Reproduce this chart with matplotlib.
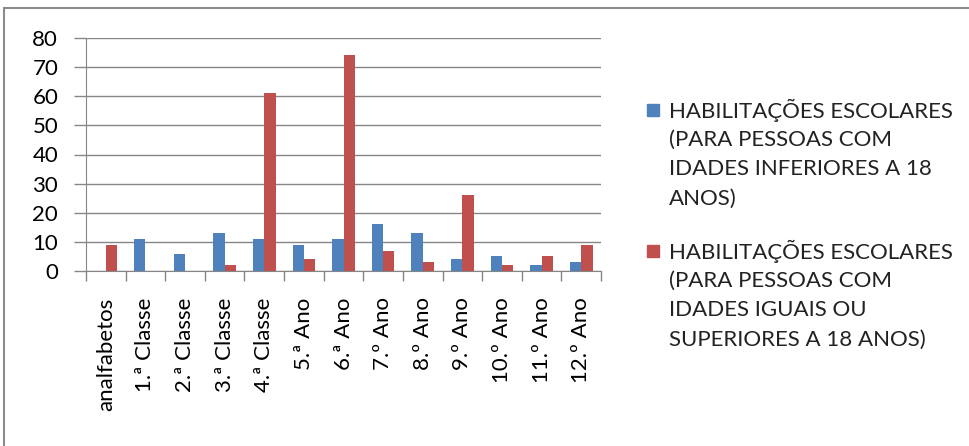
import matplotlib.pyplot as plt
from matplotlib.patches import Rectangle
import numpy as np

plt.rcParams['font.family'] = ['Lato', 'DejaVu Sans']

categorias = ["analfabetos", "1.ª Classe", "2.ª Classe", "3.ª Classe",
              "4.ª Classe", "5.ª Ano", "6.ª Ano", "7.º Ano", "8.º Ano",
              "9.º Ano", "10.º Ano", "11.º Ano", "12.º Ano"]
menores = [0, 11, 6, 13, 11, 9, 11, 16, 13, 4, 5, 2, 3]
maiores = [9, 0, 0, 2, 61, 4, 74, 7, 3, 26, 2, 5, 9]
rotulos = ["HABILITAÇÕES ESCOLARES\n(PARA PESSOAS COM\nIDADES INFERIORES A 18\nANOS)",
           "HABILITAÇÕES ESCOLARES\n(PARA PESSOAS COM\nIDADES IGUAIS OU\nSUPERIORES A 18 ANOS)"]

azul, vermelho = "#4F81BD", "#C0504D"
cinza = "#868686"
fs = 16

fig = plt.figure(figsize=(9.69, 4.46), dpi=100)
W, H = 969, 446
ax = fig.add_axes([86 / W, 175 / H, 515 / W, 233 / H])

x = np.arange(len(categorias))
w = 1 / 3.5
b1 = ax.bar(x - w / 2, menores, w, color=azul, zorder=3)
b2 = ax.bar(x + w / 2, maiores, w, color=vermelho, zorder=3)

ax.set_xlim(-0.5, len(categorias) - 0.5)
ax.set_ylim(0, 80)
ax.set_yticks(range(0, 81, 10))
ax.yaxis.grid(True, color=cinza, lw=1, zorder=0)
ax.set_xticks(x)
ax.set_xticklabels(categorias, rotation=90, fontsize=fs)
ax.set_xticks(np.arange(-0.5, len(categorias)), minor=True)
ax.tick_params(axis='x', which='major', length=0, pad=19)
ax.tick_params(axis='x', which='minor', length=7, color=cinza, width=1)
ax.tick_params(axis='y', length=9, color=cinza, width=1, labelsize=fs, pad=11)

for s in ["top", "right"]:
    ax.spines[s].set_visible(False)
for s in ["left", "bottom"]:
    ax.spines[s].set_color(cinza)

# legenda: quadrado alinhado com a primeira linha de cada rótulo
passo = 29.5
topo = [110, 251]
for cor, rot, y0 in zip([azul, vermelho], rotulos, topo):
    fig.patches.append(Rectangle((647 / W, 1 - (y0 + 6) / H), 12 / W, 12 / H,
                                 transform=fig.transFigure, color=cor))
    for i, linha in enumerate(rot.split("\n")):
        fig.text(669 / W, 1 - (y0 + i * passo) / H, linha, fontsize=fs,
                 va="center", ha="left", color="#222222")

# moldura do gráfico
fig.patches.append(Rectangle((4 / W, -0.1), 1.2, 1.1 - 8 / H,
                             transform=fig.transFigure, fill=False,
                             edgecolor="#8c8c8c", lw=1.5))

fig.savefig("out.png", dpi=100)
